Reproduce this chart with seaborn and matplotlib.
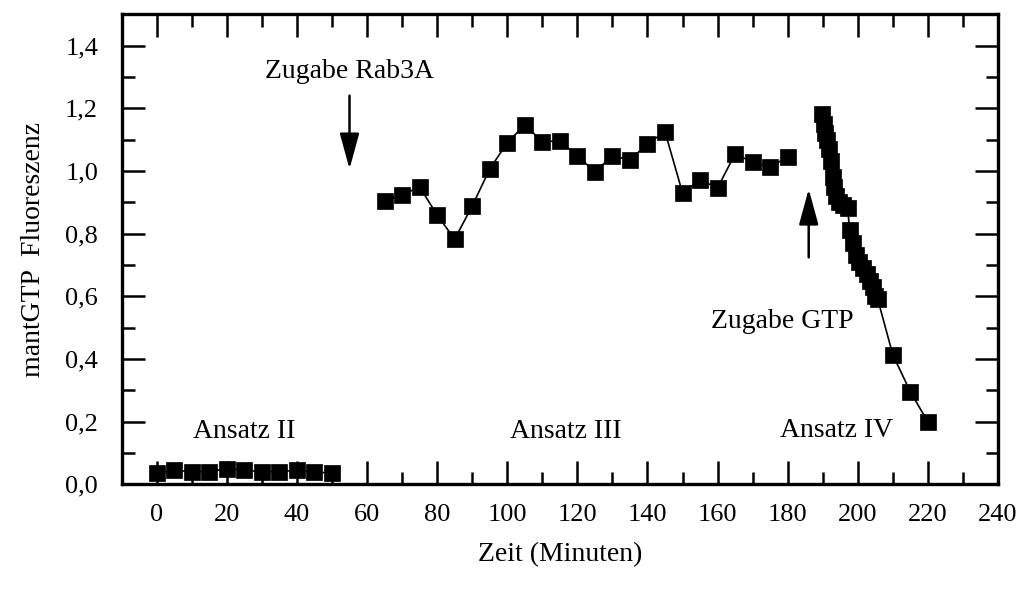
import numpy as np
import pandas as pd
import matplotlib
matplotlib.use('Agg')
import matplotlib.pyplot as plt
import seaborn as sns

# Ansatz II
zeit_2 = [0, 5, 10, 15, 20, 25, 30, 35, 40, 45, 50]
fluor_2 = [0.035, 0.045, 0.04, 0.04, 0.05, 0.045, 0.04, 0.04, 0.045, 0.04, 0.035]

# Ansatz III
zeit_3 = [65, 70, 75, 80, 85, 90, 95, 100, 105, 110, 115, 120, 125, 130, 135,
          140, 145, 150, 155, 160, 165, 170, 175, 180]
fluor_3 = [0.904, 0.923, 0.949, 0.859, 0.782, 0.888, 1.006, 1.09, 1.147, 1.093,
           1.096, 1.048, 0.997, 1.048, 1.035, 1.086, 1.125, 0.93, 0.971, 0.946,
           1.054, 1.028, 1.012, 1.045]

# Ansatz IV
zeit_4 = [189.7, 190.3, 190.6, 191.1, 191.7, 192.3, 192.9, 193.1, 193.7, 194.6,
          195.7, 197.1, 197.7, 198.6, 199.4, 200.3, 201.4, 202.6, 203.4, 204.3,
          204.9, 205.7, 210, 215, 220]
fluor_4 = [1.18, 1.15, 1.12, 1.10, 1.07, 1.03, 0.98, 0.95, 0.92, 0.90,
           0.89, 0.88, 0.81, 0.77, 0.73, 0.71, 0.69, 0.67, 0.65, 0.63,
           0.60, 0.59, 0.413, 0.295, 0.199]

x_ticks = [0, 20, 40, 60, 80, 100, 120, 140, 160, 180, 200, 220, 240]
y_ticks = [0.0, 0.2, 0.4, 0.6, 0.8, 1.0, 1.2, 1.4]
y_ticklabels = ['0,0', '0,2', '0,4', '0,6', '0,8', '1,0', '1,2', '1,4']

sns.set_style('ticks')
plt.rcParams['font.family'] = ['Liberation Serif', 'DejaVu Serif']
plt.rcParams['text.color'] = 'black'
plt.rcParams['axes.labelcolor'] = 'black'
plt.rcParams['xtick.color'] = 'black'
plt.rcParams['ytick.color'] = 'black'

fig = plt.figure(figsize=(10.31, 5.92), dpi=100)
ax = fig.add_axes([0.118, 0.182, 0.850, 0.794])

for zx, fy in [(zeit_2, fluor_2), (zeit_3, fluor_3), (zeit_4, fluor_4)]:
    df = pd.DataFrame({'Zeit': zx, 'Fluoreszenz': fy})
    sns.lineplot(data=df, x='Zeit', y='Fluoreszenz', ax=ax, color='black',
                 linewidth=1.2, marker='s', markersize=11,
                 markeredgecolor='black', markeredgewidth=0.5,
                 estimator=None, sort=False)

ax.set_xlim(-10, 240)
ax.set_ylim(0, 1.5)
ax.set_xticks(x_ticks)
ax.set_xticks(np.arange(-10, 241, 10), minor=True)
ax.set_yticks(y_ticks)
ax.set_yticklabels(y_ticklabels)
ax.set_yticks(np.arange(0, 1.51, 0.1), minor=True)

ax.tick_params(which='both', direction='in', top=True, right=True,
               width=1.8, color='black')
ax.tick_params(which='major', length=16.5)
ax.tick_params(which='minor', length=9)
ax.tick_params(axis='y', labelsize=19, pad=17)
ax.tick_params(axis='x', labelsize=19, pad=14)

for sp in ax.spines.values():
    sp.set_linewidth(2.4)
    sp.set_color('black')
    sp.set_visible(True)

ax.set_xlabel('Zeit (Minuten)', fontsize=20, labelpad=12)
ax.set_ylabel('mantGTP  Fluoreszenz', fontsize=20, labelpad=14)

arrow = dict(arrowstyle='-|>,head_length=1.1,head_width=0.3', color='black',
             lw=1.8, shrinkA=0, shrinkB=0, mutation_scale=20)
ax.annotate('', xy=(55, 1.006), xytext=(55, 1.24), arrowprops=arrow)
ax.text(55, 1.317, 'Zugabe Rab3A', fontsize=20, ha='center', va='center')
ax.annotate('', xy=(186, 0.942), xytext=(186, 0.724), arrowprops=arrow)
ax.text(178.6, 0.519, 'Zugabe GTP', fontsize=20, ha='center', va='center')

ax.text(24.9, 0.167, 'Ansatz II', fontsize=20, ha='center', va='center')
ax.text(116.6, 0.167, 'Ansatz III', fontsize=20, ha='center', va='center')
ax.text(194, 0.173, 'Ansatz IV', fontsize=20, ha='center', va='center')

fig.savefig('out.png', dpi=100)
